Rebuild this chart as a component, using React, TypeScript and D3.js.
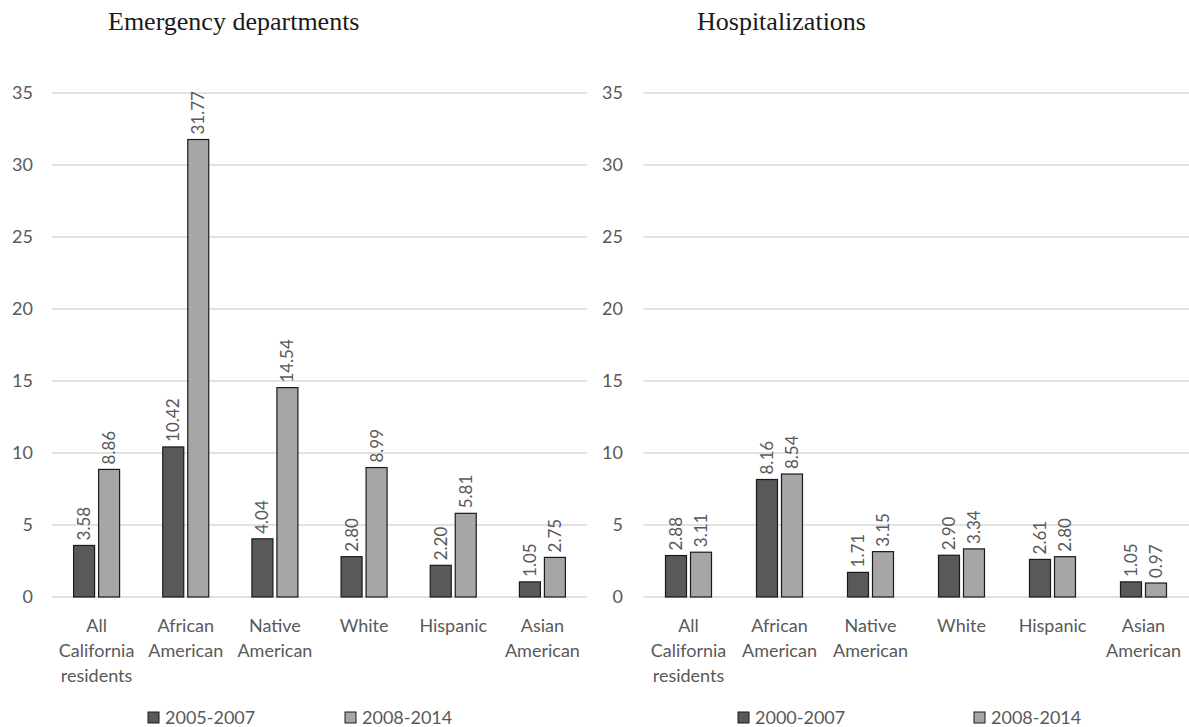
import React from "react";
import * as d3 from "d3";

// categories shared by both panels (multi-line labels)
const categories = [
  ["All", "California", "residents"],
  ["African", "American"],
  ["Native", "American"],
  ["White"],
  ["Hispanic"],
  ["Asian", "American"],
];

// Emergency departments
const edEarly = [3.58, 10.42, 4.04, 2.8, 2.2, 1.05];
const edLate = [8.86, 31.77, 14.54, 8.99, 5.81, 2.75];
const edLegend = ["2005-2007", "2008-2014"];

// Hospitalizations
const hospEarly = [2.88, 8.16, 1.71, 2.9, 2.61, 1.05];
const hospLate = [3.11, 8.54, 3.15, 3.34, 2.8, 0.97];
const hospLegend = ["2000-2007", "2008-2014"];

const yTicks = [0, 5, 10, 15, 20, 25, 30, 35];

const DARK = "#595959";
const LIGHT = "#a6a6a6";
const TEXT = "#595959";
const FONT = "Lato, 'Open Sans', sans-serif";

type PanelProps = {
  title: string;
  titleX: number;
  early: number[];
  late: number[];
  legend: string[];
  x0: number;
  x1: number;
  tickX: number;
  legendX: number[];
};

const Panel = ({ title, titleX, early, late, legend, x0, x1, tickX, legendX }: PanelProps) => {
  const y = d3.scaleLinear().domain([0, 35]).range([597, 93]);
  const x = d3.scaleBand<number>().domain(d3.range(categories.length)).range([x0, x1]);
  const barW = 21;
  const gap = 4;

  const bars = (vals: number[], side: number, fill: string) =>
    vals.map((v, i) => {
      const cx = (x(i) ?? 0) + x.bandwidth() / 2;
      const bx = side === 0 ? cx - gap / 2 - barW : cx + gap / 2;
      return (
        <g key={`${side}-${i}`}>
          <rect x={bx} y={y(v)} width={barW} height={y(0) - y(v)} fill={fill} stroke="#1a1a1a" strokeWidth={1.2} />
          <text
            transform={`translate(${bx + barW / 2 + 6},${y(v) - 5}) rotate(-90)`}
            fontSize={17}
            fill={TEXT}
            fontFamily={FONT}
          >
            {v.toFixed(2)}
          </text>
        </g>
      );
    });

  return (
    <g>
      <text x={titleX} y={30} fontFamily="'Liberation Serif', 'Times New Roman', serif" fontSize={26} fill="#1a1a1a">
        {title}
      </text>
      {yTicks.map((t) => (
        <g key={t}>
          <line x1={x0} x2={x1} y1={y(t)} y2={y(t)} stroke="#d9d9d9" strokeWidth={1.3} />
          <text x={tickX} y={y(t) + 6} textAnchor="end" fontSize={18} fill={TEXT} fontFamily={FONT}>
            {t}
          </text>
        </g>
      ))}
      {bars(early, 0, DARK)}
      {bars(late, 1, LIGHT)}
      {categories.map((lines, i) => (
        <text
          key={i}
          x={(x(i) ?? 0) + x.bandwidth() / 2}
          textAnchor="middle"
          fontSize={18}
          fill={TEXT}
          fontFamily={FONT}
        >
          {lines.map((l, j) => (
            <tspan key={j} x={(x(i) ?? 0) + x.bandwidth() / 2} y={632 + j * 25}>
              {l}
            </tspan>
          ))}
        </text>
      ))}
      {legend.map((l, i) => (
        <g key={l} transform={`translate(${legendX[i]},0)`}>
          <rect x={0} y={712} width={11} height={11} fill={i === 0 ? DARK : LIGHT} stroke="#1a1a1a" strokeWidth={1} />
          <text x={17} y={724} fontSize={18} fill={TEXT} fontFamily={FONT}>
            {l}
          </text>
        </g>
      ))}
    </g>
  );
};

export default function App() {
  return (
    <svg
      width={1189}
      height={727}
      style={{ position: "absolute", left: 0, top: 0, background: "#fff" }}
    >
      <Panel
        title="Emergency departments"
        titleX={108}
        early={edEarly}
        late={edLate}
        legend={edLegend}
        x0={52}
        x1={587}
        tickX={33}
        legendX={[148, 345]}
      />
      <Panel
        title="Hospitalizations"
        titleX={697}
        early={hospEarly}
        late={hospLate}
        legend={hospLegend}
        x0={643}
        x1={1189}
        tickX={623}
        legendX={[738, 974]}
      />
    </svg>
  );
}
